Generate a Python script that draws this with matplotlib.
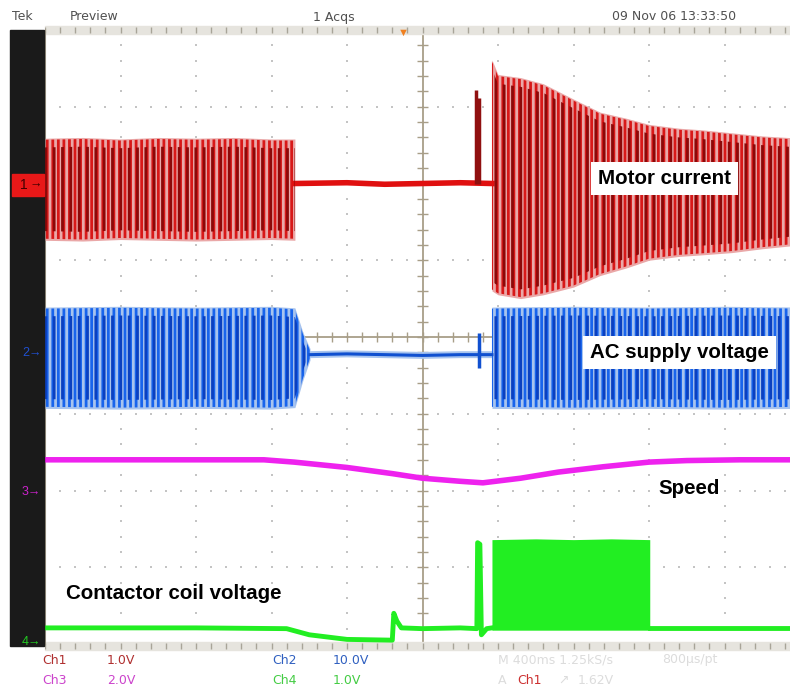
import numpy as np
import matplotlib
matplotlib.use('Agg')
import matplotlib.pyplot as plt
from matplotlib.patches import Rectangle

plt.rcParams['font.family'] = ['Liberation Sans', 'DejaVu Sans']
plt.rcParams['hatch.linewidth'] = 2.0

W, H = 790, 691

# ---- trace data, in scope divisions (x: 0..10, y: 0..8) ----
# Ch1 motor current
red_l_x = [0.0, 0.5, 1.0, 1.5, 2.0, 2.5, 3.0, 3.31]
red_l_hi = [6.59, 6.60, 6.58, 6.60, 6.59, 6.60, 6.58, 6.58]
red_l_lo = [5.26, 5.25, 5.27, 5.26, 5.25, 5.26, 5.27, 5.26]
red_flat_x = [3.31, 4.0, 4.5, 5.0, 5.5, 5.92]
red_flat_y = [6.0, 6.01, 5.99, 6.0, 6.01, 6.0]
red_spike_x = [5.71, 5.75]
red_spike_hi = [7.22, 7.12]
red_r_x = [5.92, 6.0, 6.3, 6.6, 7.0, 7.35, 7.7, 8.0, 8.4, 8.7, 9.1, 9.5, 10.0]
red_r_hi = [7.61, 7.42, 7.38, 7.30, 7.10, 6.93, 6.85, 6.77, 6.72, 6.70, 6.66, 6.62, 6.59]
red_r_lo = [4.60, 4.55, 4.50, 4.55, 4.65, 4.80, 4.90, 5.00, 5.05, 5.07, 5.10, 5.15, 5.20]

# Ch2 AC supply voltage
blue_l_x = [0.0, 1.0, 2.0, 3.0, 3.31, 3.42, 3.51]
blue_l_hi = [4.39, 4.40, 4.39, 4.40, 4.38, 4.05, 3.85]
blue_l_lo = [3.07, 3.06, 3.07, 3.06, 3.08, 3.45, 3.70]
blue_flat_x = [3.51, 4.0, 4.5, 5.0, 5.5, 5.92]
blue_flat_y = [3.77, 3.78, 3.77, 3.76, 3.77, 3.77]
blue_spike_x = [5.75]
blue_spike_hi = [4.05]
blue_spike_lo = [3.60]
blue_r_x = [5.92, 7.0, 8.0, 9.0, 10.0]
blue_r_hi = [4.39, 4.40, 4.39, 4.40, 4.39]
blue_r_lo = [3.07, 3.06, 3.07, 3.06, 3.07]

# Ch3 speed
mag_x = [0.0, 1.0, 2.0, 2.9, 3.3, 4.0, 4.6, 5.0, 5.5, 5.8, 6.3, 6.8, 7.4, 8.0, 8.5, 9.2, 10.0]
mag_y = [2.40, 2.40, 2.40, 2.40, 2.37, 2.30, 2.22, 2.16, 2.12, 2.10, 2.16, 2.24, 2.31, 2.37, 2.39, 2.40, 2.40]

# Ch4 contactor coil voltage
grn_x = [0.0, 1.0, 2.0, 3.2, 3.5, 4.0, 4.6, 4.62, 4.66, 4.72, 5.0, 5.5, 5.72, 5.73, 5.76, 5.78, 5.85, 5.92]
grn_y = [0.21, 0.21, 0.21, 0.20, 0.12, 0.06, 0.05, 0.40, 0.30, 0.21, 0.20, 0.21, 0.20, 1.32, 1.30, 0.12, 0.20, 0.21]
grn_blk_x = [5.92, 6.5, 7.0, 7.5, 8.01]
grn_blk_hi = [1.36, 1.37, 1.36, 1.37, 1.36]
grn_blk_lo = [0.18, 0.18, 0.18, 0.18, 0.18]
grn_end_x = [8.01, 9.0, 10.0]
grn_end_y = [0.21, 0.21, 0.21]

labels = ['Motor current', 'AC supply voltage', 'Speed', 'Contactor coil voltage']

fig = plt.figure(figsize=(W / 100, H / 100), dpi=100)
fig.patch.set_facecolor('white')


def fx(px):
    return px / W


def fy(py):
    return 1 - py / H


# graticule axes: x=0 at px 45, 75.5 px/div ; y=0 at px 644, 76.75 px/div
y0, y1 = -0.1, 8.1
ax = fig.add_axes([fx(45), fy(644 + 76.75 * 0.1), 755 / W, 76.75 * 8.2 / H])
ax.set_xlim(0, 10)
ax.set_ylim(y0, y1)
ax.axis('off')

# grid dots
gx = np.arange(0, 10.01, 0.2)
gy = np.arange(0, 8.01, 0.2)
for k in range(1, 10):
    if k != 5:
        ax.scatter(np.full(gy.size, k), gy, s=1.2, marker='s', color='#c4c4c4', lw=0, zorder=1)
for k in range(1, 8):
    if k != 4:
        ax.scatter(gx, np.full(gx.size, k), s=1.2, marker='s', color='#c4c4c4', lw=0, zorder=1)

# centre cross with ticks
ax.plot([5, 5], [0, 8], color='#a89e88', lw=1.3, zorder=1)
ax.plot([0, 10], [4, 4], color='#a89e88', lw=1.3, zorder=1)
ax.hlines(gy, 4.93, 5.07, color='#a89e88', lw=1.0, zorder=1)
ax.vlines(gx, 3.93, 4.07, color='#a89e88', lw=1.0, zorder=1)

# top / bottom frame bands
ax.add_patch(Rectangle((0, 7.95), 10, 0.1, color='#e6e4de', zorder=1, clip_on=False))
ax.add_patch(Rectangle((0, -0.08), 10, 0.1, color='#e6e4de', zorder=1, clip_on=False))
ax.vlines(gx, 7.96, 8.04, color='#a8a498', lw=1.0, zorder=1)
ax.vlines(gx, -0.07, 0.01, color='#a8a498', lw=1.0, zorder=1)
ax.plot([0, 0], [0, 8], color='#a09888', lw=1.5, zorder=1)


def burst(xs, hi, lo, light, mid, dark):
    hi = np.asarray(hi)
    lo = np.asarray(lo)
    ax.fill_between(xs, lo, hi, color=light, lw=0, zorder=3)
    ax.fill_between(xs, lo + 0.02, hi - 0.02, facecolor='none', edgecolor=mid,
                    hatch='|||', lw=0, zorder=4)
    ax.fill_between(xs, lo + 0.12, hi - 0.12, facecolor='none', edgecolor=dark,
                    hatch='||', lw=0, zorder=5)


# Ch1
burst(red_l_x, red_l_hi, red_l_lo, '#eaa8a8', '#d81818', '#8c0808')
burst(red_r_x, red_r_hi, red_r_lo, '#eaa8a8', '#d81818', '#8c0808')
ax.plot(red_flat_x, red_flat_y, color='#e01010', lw=4, zorder=4)
ax.vlines(red_spike_x, 6.0, red_spike_hi, color='#901010', lw=2.5, zorder=5)

# Ch2
burst(blue_l_x, blue_l_hi, blue_l_lo, '#a8c4ee', '#1864ec', '#0a40c0')
burst(blue_r_x, blue_r_hi, blue_r_lo, '#a8c4ee', '#1864ec', '#0a40c0')
ax.plot(blue_flat_x, blue_flat_y, color='#a8c4ee', lw=5, zorder=3)
ax.plot(blue_flat_x, blue_flat_y, color='#1050d0', lw=2.2, zorder=4)
ax.vlines(blue_spike_x, blue_spike_lo, blue_spike_hi, color='#1050d0', lw=2.5, zorder=5)

# Ch3
ax.plot(mag_x, mag_y, color='#ee22ee', lw=4, zorder=4)

# Ch4
ax.plot(grn_x, grn_y, color='#22ee22', lw=3.5, zorder=4)
ax.fill_between(grn_blk_x, grn_blk_lo, grn_blk_hi, color='#22ee22', lw=0, zorder=4)
ax.plot(grn_end_x, grn_end_y, color='#22ee22', lw=3.5, zorder=4)

# trace labels
box = dict(facecolor='white', edgecolor='none', pad=5)
lf = dict(fontsize=14.8, fontweight='bold', va='center', zorder=10)
ax.text(7.33, 6.06, labels[0], bbox=box, **lf)
ax.text(7.22, 3.80, labels[1], bbox=box, **lf)
ax.text(8.12, 2.03, labels[2], **lf)
ax.text(0.28, 0.66, labels[3], **lf)

# left black strip and channel markers
fig.add_artist(Rectangle((fx(10), fy(646)), 34 / W, 616 / H, color='#1a1a1a',
                         transform=fig.transFigure))
fig.add_artist(Rectangle((fx(12), fy(196)), 32 / W, 22 / H, color='#e81818',
                         transform=fig.transFigure))
fig.text(fx(20), fy(185), '1', color='#400000', fontsize=10, va='center')
fig.text(fx(30), fy(185), '\u2192', color='#400000', fontsize=9, va='center')
fig.text(fx(22), fy(353), '2\u2192', color='#2050d0', fontsize=9, va='center')
fig.text(fx(22), fy(492), '3\u2192', color='#cc22cc', fontsize=9, va='center')
fig.text(fx(22), fy(642), '4\u2192', color='#22cc22', fontsize=9, va='center')

# header / footer readouts
tf = dict(fontsize=9, va='center', family='DejaVu Sans')
fig.text(fx(12), fy(17), 'Tek', color='#505050', **tf)
fig.text(fx(70), fy(17), 'Preview', color='#505050', **tf)
fig.text(fx(313), fy(17), '1 Acqs', color='#505050', **tf)
fig.text(fx(612), fy(17), '09 Nov 06 13:33:50', color='#505050', **tf)
# orange trigger marker
fig.text(fx(403), fy(33), '\u25bc', color='#f08020', fontsize=8, ha='center', va='center')

fig.text(fx(42), fy(660), 'Ch1', color='#b03030', **tf)
fig.text(fx(107), fy(660), '1.0V', color='#b03030', **tf)
fig.text(fx(42), fy(680), 'Ch3', color='#cc44cc', **tf)
fig.text(fx(107), fy(680), '2.0V', color='#cc44cc', **tf)
fig.text(fx(272), fy(660), 'Ch2', color='#3060c0', **tf)
fig.text(fx(333), fy(660), '10.0V', color='#3060c0', **tf)
fig.text(fx(272), fy(680), 'Ch4', color='#44cc44', **tf)
fig.text(fx(333), fy(680), '1.0V', color='#44cc44', **tf)
fig.text(fx(498), fy(660), 'M 400ms 1.25kS/s', color='#dcdcdc', **tf)
fig.text(fx(662), fy(660), '800\u00b5s/pt', color='#dcdcdc', **tf)
fig.text(fx(498), fy(680), 'A', color='#dcdcdc', **tf)
fig.text(fx(517), fy(680), 'Ch1', color='#cc3030', **tf)
fig.text(fx(558), fy(680), '\u2197', color='#dcdcdc', **tf)
fig.text(fx(578), fy(680), '1.62V', color='#dcdcdc', **tf)

fig.savefig('out.png', dpi=100)
